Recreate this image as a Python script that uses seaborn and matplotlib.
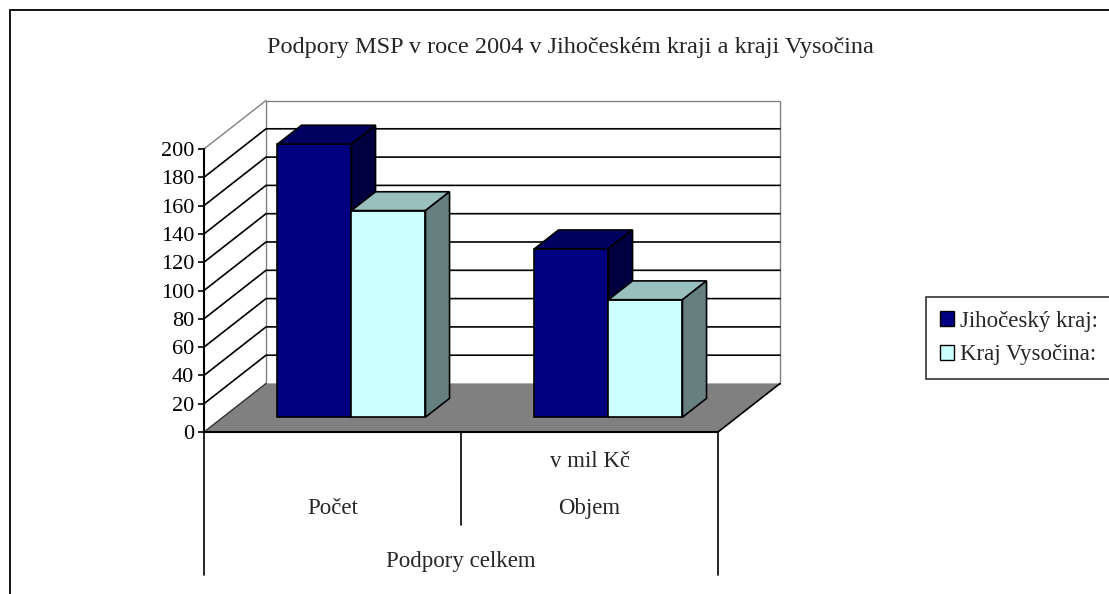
import numpy as np
import pandas as pd
import matplotlib
matplotlib.use("Agg")
import matplotlib.pyplot as plt
import seaborn as sns
from matplotlib.patches import Polygon, Rectangle, Patch

# data
categories = ["Počet", "Objem"]
category_notes = ["", "v mil Kč"]
group_label = "Podpory celkem"
regions = ["Jihočeský kraj:", "Kraj Vysočina:"]
jihocesky = [193, 119]
vysocina = [146, 83]
y_ticks = list(range(0, 201, 20))
title = "Podpory MSP v roce 2004 v Jihočeském kraji a kraji Vysočina"

df = pd.DataFrame({
    "kategorie": categories * 2,
    "kraj": [regions[0]] * 2 + [regions[1]] * 2,
    "hodnota": jihocesky + vysocina,
})

sns.set_style("white")
plt.rcParams["font.family"] = ["Liberation Serif", "DejaVu Serif"]

W, H = 1109, 594
fig = plt.figure(figsize=(W / 100, H / 100), dpi=100)

# pixel geometry of the oblique 3d box
X0, Y0 = 204, 432          # front axis, zero line
CAT_PX, VAL_PX = 257, 1.415
DX = 62 / CAT_PX           # depth offset in data units
DY = 48.5 / VAL_PX
D_FRONT, D_BACK = 0.306, 0.694

xlim = (-0.5, 1.76)
ylim = (-106, 236)
left = X0 + (xlim[0] + 0.5) * CAT_PX
right = left + (xlim[1] - xlim[0]) * CAT_PX
bottom = Y0 - ylim[0] * VAL_PX
top = Y0 - ylim[1] * VAL_PX
ax = fig.add_axes([left / W, (H - bottom) / H, (right - left) / W, (bottom - top) / H])
ax.set_facecolor("none")

navy, cyan = "#000080", "#CCFFFF"
sns.barplot(data=df, x="kategorie", y="hodnota", hue="kraj", order=categories,
            hue_order=regions, palette=[navy, cyan], width=0.576, saturation=1,
            edgecolor="black", linewidth=1.2, legend=False, ax=ax)
bars = sorted(list(ax.patches), key=lambda p: p.get_x())

ax.set_xlim(*xlim)
ax.set_ylim(*ylim)
ax.set_xlabel("")
ax.set_ylabel("")
ax.set_xticks([])

n = len(categories)
xl, xr = -0.5, n - 0.5
gray = "#808080"
fs = 16.5

# side wall and back wall
ax.add_patch(Polygon([(xl, 0), (xl + DX, DY), (xl + DX, 200 + DY), (xl, 200)],
                     facecolor="white", edgecolor="none", zorder=0.5, clip_on=False))
ax.add_patch(Polygon([(xl + DX, DY), (xr + DX, DY), (xr + DX, 200 + DY), (xl + DX, 200 + DY)],
                     facecolor="white", edgecolor=gray, lw=1.0, zorder=0.6, clip_on=False))
ax.plot([xl, xl + DX], [200, 200 + DY], color=gray, lw=1.0, zorder=0.7, clip_on=False)

# gridlines
for v in y_ticks[1:-1]:
    ax.plot([xl, xl + DX, xr + DX], [v, v + DY, v + DY], color="black", lw=1.2,
            zorder=0.8, clip_on=False)

# floor
ax.add_patch(Polygon([(xl, 0), (xr, 0), (xr + DX, DY), (xl + DX, DY)],
                     facecolor=gray, edgecolor="none", zorder=1, clip_on=False))
ax.plot([xl, xl + DX], [0, DY], color="#333333", lw=1.0, zorder=1.1, clip_on=False)
ax.plot([xr, xr + DX], [0, DY], color="black", lw=1.2, zorder=1.1, clip_on=False)
ax.plot([xl, xr], [0, 0], color="black", lw=1.5, zorder=1.2, clip_on=False)

# 3d bars
dd = D_BACK - D_FRONT
for k, p in enumerate(bars):
    x, w, h = p.get_x(), p.get_width(), p.get_height()
    x0, y0 = x + D_FRONT * DX, D_FRONT * DY
    p.set_x(x0)
    p.set_y(y0)
    p.set_zorder(3 + k)
    fc = np.array(matplotlib.colors.to_rgb(p.get_facecolor()))
    top_face = [(x0, y0 + h), (x0 + w, y0 + h), (x0 + w + dd * DX, y0 + h + dd * DY),
                (x0 + dd * DX, y0 + h + dd * DY)]
    side_face = [(x0 + w, y0), (x0 + w, y0 + h), (x0 + w + dd * DX, y0 + h + dd * DY),
                 (x0 + w + dd * DX, y0 + dd * DY)]
    ax.add_patch(Polygon(top_face, facecolor=fc * 0.75, edgecolor="black", lw=1.2,
                         zorder=3 + k, joinstyle="miter"))
    ax.add_patch(Polygon(side_face, facecolor=fc * 0.5, edgecolor="black", lw=1.2,
                         zorder=3 + k, joinstyle="miter"))

# y axis
for s in ["top", "right", "bottom"]:
    ax.spines[s].set_visible(False)
ax.spines["left"].set_bounds(0, 200)
ax.spines["left"].set_color("black")
ax.spines["left"].set_linewidth(1.5)
ax.spines["left"].set_zorder(2)
ax.set_yticks(y_ticks)
ax.tick_params(axis="y", direction="out", length=4, width=1.2, pad=3,
               labelsize=16, colors="black", left=True)

# category labels below the floor
for i, (cat, note) in enumerate(zip(categories, category_notes)):
    ax.text(i, -54.4, cat, ha="center", va="center", fontsize=fs, clip_on=False)
    if note:
        ax.text(i, -21.2, note, ha="center", va="center", fontsize=fs, clip_on=False)
ax.text((n - 1) / 2, -91.2, group_label, ha="center", va="center", fontsize=fs, clip_on=False)
ax.plot([xl, xl], [0, -101], color="black", lw=1.2, clip_on=False)
ax.plot([xr, xr], [0, -101], color="black", lw=1.2, clip_on=False)
for i in range(1, n):
    ax.plot([i - 0.5, i - 0.5], [0, -65.7], color="black", lw=1.2, clip_on=False)

# title
fig.text(570 / W, 1 - 48 / H, title, ha="center", va="center", fontsize=17.5)

# legend
handles = [Patch(facecolor=c, edgecolor="black", lw=1.0) for c in [navy, cyan]]
leg = fig.legend(handles, regions, loc="upper left", bbox_to_anchor=(926 / W, 1 - 297 / H),
                 frameon=True, fancybox=False, shadow=False, fontsize=fs,
                 handlelength=0.6, handleheight=0.6, handletextpad=0.3,
                 labelspacing=0.55, borderpad=0.6, borderaxespad=0)
leg.get_frame().set_edgecolor("black")
leg.get_frame().set_linewidth(1.2)

# chart area border
fig.add_artist(Rectangle((10 / W, -0.1), 1.2, 1.1 - 10 / H, transform=fig.transFigure,
                         fill=False, edgecolor="black", lw=1.3))

fig.savefig("out.png", dpi=100)
